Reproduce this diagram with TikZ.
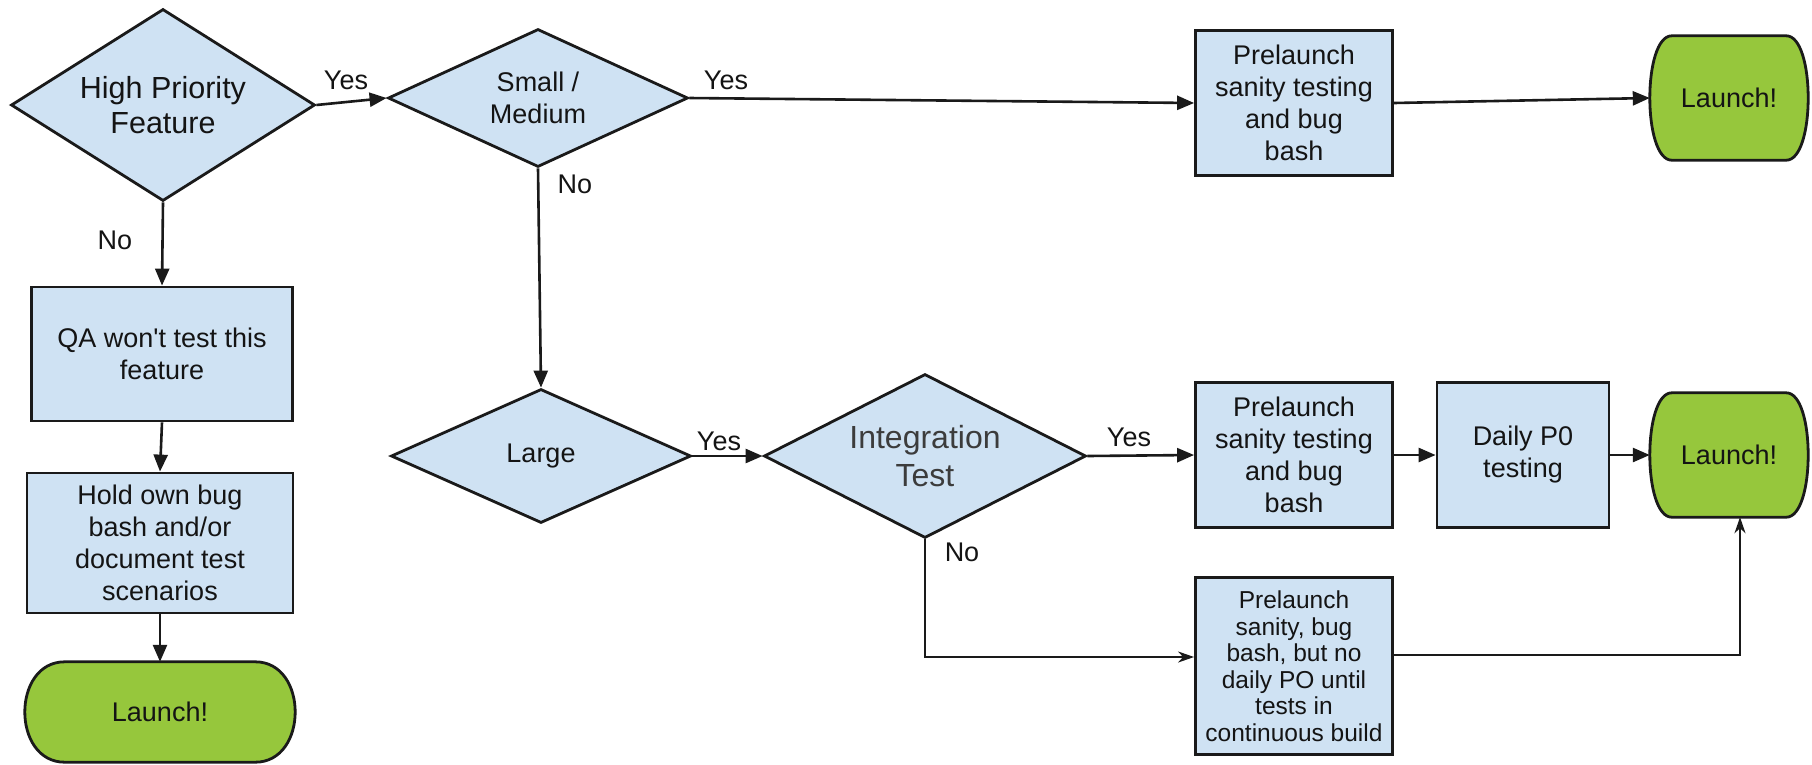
\documentclass[tikz,border=0pt]{standalone}
\usepackage{fontspec}
\setmainfont{Liberation Sans}
\usetikzlibrary{shapes.geometric,arrows.meta,calc}
\pgfdeclarelayer{background}
\pgfsetlayers{background,main}

\definecolor{boxblue}{RGB}{207,226,243}
\definecolor{launchgreen}{RGB}{150,199,60}
\definecolor{edgeink}{RGB}{26,26,26}
\definecolor{softink}{RGB}{60,60,60}

% Terminator outline: flat top and bottom, bulging sides drawn around a node
\newcommand\launchoutline[2]{%
  \path[launchshape]
    ($(#1.north west)+(#2,0)$) -- ($(#1.north east)+(-#2,0)$)
    .. controls ($(#1.north east)+(#2/3,0)$) and ($(#1.south east)+(#2/3,0)$) ..
    ($(#1.south east)+(-#2,0)$) -- ($(#1.south west)+(#2,0)$)
    .. controls ($(#1.south west)+(-#2/3,0)$) and ($(#1.north west)+(-#2/3,0)$) ..
    cycle;
}

\tikzset{
  launchshape/.style={draw=edgeink, line width=2.8pt, fill=launchgreen},
}

\begin{document}
\begin{tikzpicture}[x=1pt,y=-1pt,
  every node/.style={font=\fontsize{27}{32}\selectfont, text=black!92, inner sep=0pt, align=center},
  stepbox/.style={draw=edgeink, line width=2.8pt, fill=boxblue, minimum width=197pt, minimum height=145pt},
  decision/.style={diamond, draw=edgeink, line width=2.8pt, fill=boxblue},
  launch/.style={minimum width=158pt, minimum height=124pt},
  answer/.style={},
  flow/.style={draw=edgeink, line width=2.6pt, -{Triangle[length=17pt,width=14pt]}},
  thinflow/.style={draw=edgeink, line width=2pt, -{Stealth[length=16pt,width=11pt,inset=5pt]}},
]
\useasboundingbox (0,0) rectangle (1812,764);

% decisions
\node[decision, minimum width=304pt, minimum height=192pt, shape aspect=1.58,
      font=\fontsize{30.5}{35}\selectfont] (hpf) at (163,105) {High Priority\\Feature};
\node[decision, minimum width=300pt, minimum height=138pt, shape aspect=2.2] (sm) at (538,98) {Small /\\Medium};
\node[decision, minimum width=300pt, minimum height=134pt, shape aspect=2.24] (large) at (541,456) {Large};
\node[decision, minimum width=322pt, minimum height=164pt, shape aspect=1.96,
      font=\fontsize{32}{38}\selectfont, text=softink] (integ) at (925,456) {Integration\\Test};

% process steps
\node[stepbox] (pre1) at (1294,103) {Prelaunch\\sanity testing\\and bug\\bash};
\node[stepbox] (pre2) at (1294,455) {Prelaunch\\sanity testing\\and bug\\bash};
\node[stepbox, minimum width=172pt] (daily) at (1523,455) {Daily P0\\testing};
\node[stepbox, minimum height=177pt, font=\fontsize{24.5}{26.5}\selectfont] (partial) at (1294,666)
  {Prelaunch\\sanity, bug\\bash, but no\\daily PO until\\tests in\\continuous build};
\node[stepbox, minimum width=261pt, minimum height=134pt] (qa) at (162,354) {QA won\textquotesingle t test this\\feature};
\node[stepbox, minimum width=266pt, minimum height=140pt] (hold) at (160,543) {Hold own bug\\bash and/or\\document test\\scenarios};

% terminators
\node[launch] (go1) at (1729,98) {Launch!};
\node[launch] (go2) at (1729,455) {Launch!};
\node[launch, minimum width=270pt, minimum height=100pt] (go3) at (160,712) {Launch!};
\begin{pgfonlayer}{background}
  \fill[white] (0,0) rectangle (1812,764);
  \launchoutline{go1}{22}
  \launchoutline{go2}{22}
  \launchoutline{go3}{40}
\end{pgfonlayer}

% connectors
\draw[flow] (hpf.east) -- (sm.west);
\draw[flow] (sm.east) -- (pre1.west);
\draw[flow] (pre1.east) -- (go1.west);
\draw[flow] (hpf.south) -- (qa.north);
\draw[flow] (qa.south) -- (hold.north);
\draw[flow] (hold.south) -- (go3.north);
\draw[flow] (sm.south) -- (large.north);
\draw[flow] (large.east) -- (integ.west);
\draw[flow] (integ.east) -- (pre2.west);
\draw[flow] (pre2.east) -- (daily.west);
\draw[flow] (daily.east) -- (go2.west);
\coordinate (noTurn) at (925,657);
\draw[thinflow] (integ.south) -- (noTurn) -- (partial.west |- noTurn);
\coordinate (upTurn) at (1740,655);
\draw[thinflow] (partial.east |- upTurn) -- (upTurn) -- (upTurn |- go2.south);

% branch answers
\node[answer] (yesA) at (346,80) {Yes};
\node[answer] (yesB) at (726,80) {Yes};
\node[answer] (noA) at (115,240) {No};
\node[answer] (noB) at (575,184) {No};
\node[answer] (yesC) at (719,441) {Yes};
\node[answer] (yesD) at (1129,437) {Yes};
\node[answer] (noC) at (962,552) {No};
\end{tikzpicture}
\end{document}
